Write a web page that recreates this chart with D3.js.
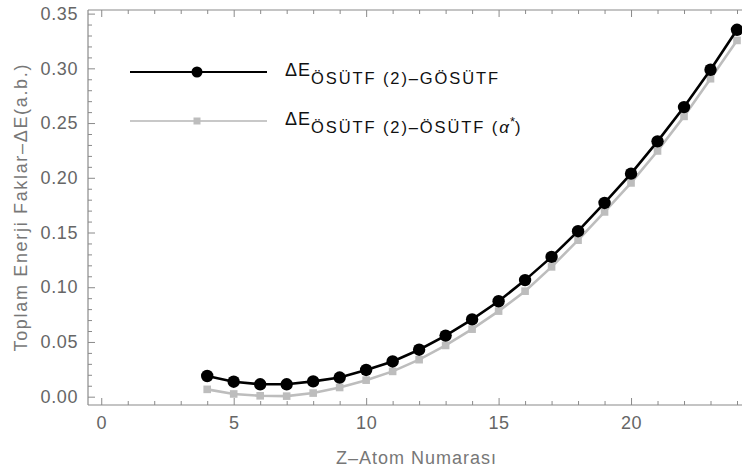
<!DOCTYPE html>
<html>
<head>
<meta charset="utf-8">
<script src="https://cdn.jsdelivr.net/npm/d3@7"></script>
<style>
  html, body { margin: 0; padding: 0; background: #fff; }
  svg { display: block; }
  text { font-family: "Liberation Sans", Arial, sans-serif; }
</style>
</head>
<body>
<svg id="chart" width="742" height="473"></svg>
<script>
// ---- data ----
const zValues = [4,5,6,7,8,9,10,11,12,13,14,15,16,17,18,19,20,21,22,23,24];
const seriesGOSUTF = [0.0189,0.0137,0.0113,0.0113,0.0140,0.0175,0.0244,0.0322,0.0429,0.0558,0.0706,0.0872,0.1065,0.1277,0.1512,0.1770,0.2038,0.2333,0.2646,0.2987,0.3352];
const seriesAlpha  = [0.0067,0.0025,0.0008,0.0005,0.0033,0.0084,0.0151,0.0231,0.0338,0.0468,0.0617,0.0782,0.0964,0.1186,0.1430,0.1688,0.1953,0.2245,0.2561,0.2905,0.3255];
const xTickValues = [0,5,10,15,20];
const yTickValues = [0,0.05,0.10,0.15,0.20,0.25,0.30,0.35];
const xTitle = "Z\u2013Atom Numaras\u0131";
const yTitle = "Toplam Enerji Faklar\u2013\u0394E(a.b.)";

// ---- layout ----
const svg = d3.select("#chart");
const pL = 88, pR = 737, pT = 10, pB = 405;
const x = d3.scaleLinear().domain([-0.5, 24]).range([pL, pR]);
const y = d3.scaleLinear().domain([-0.0076, 0.3533]).range([pB, pT]);
const frameColor = "#8a8a8a";
const labelColor = "#666";

// minor ticks
const xMinor = d3.range(0, 25, 1).filter(v => v % 5 !== 0);
const yMinor = d3.range(0, 36, 1).map(v => v / 100).filter((v, i) => i % 5 !== 0);

function styleAxis(g) {
  g.select(".domain").remove();
  g.selectAll(".tick line").attr("stroke", frameColor).attr("stroke-width", 1);
  g.selectAll(".tick text").attr("fill", labelColor).style("font-size", "18px")
    .style("letter-spacing", "0.6px");
}

// bottom axis
svg.append("g").attr("transform", `translate(0,${pB})`)
  .call(d3.axisBottom(x).tickValues(xTickValues).tickSize(-7).tickPadding(11).tickFormat(d3.format("d")))
  .call(styleAxis);
svg.append("g").attr("transform", `translate(0,${pB})`)
  .call(d3.axisBottom(x).tickValues(xMinor).tickSize(-4).tickFormat(""))
  .call(styleAxis);
// top axis ticks
svg.append("g").attr("transform", `translate(0,${pT})`)
  .call(d3.axisTop(x).tickValues(xTickValues).tickSize(-7).tickFormat(""))
  .call(styleAxis);
svg.append("g").attr("transform", `translate(0,${pT})`)
  .call(d3.axisTop(x).tickValues(xMinor).tickSize(-4).tickFormat(""))
  .call(styleAxis);
// left axis
svg.append("g").attr("transform", `translate(${pL},0)`)
  .call(d3.axisLeft(y).tickValues(yTickValues).tickSize(-7).tickPadding(10).tickFormat(d3.format(".2f")))
  .call(styleAxis);
svg.append("g").attr("transform", `translate(${pL},0)`)
  .call(d3.axisLeft(y).tickValues(yMinor).tickSize(-4).tickFormat(""))
  .call(styleAxis);

// frame lines
svg.append("line").attr("x1", pL).attr("x2", pL).attr("y1", pT).attr("y2", pB)
  .attr("stroke", frameColor).attr("stroke-width", 1.2);
svg.append("line").attr("x1", pL).attr("x2", 742).attr("y1", pB).attr("y2", pB)
  .attr("stroke", frameColor).attr("stroke-width", 1.2);
svg.append("line").attr("x1", pL).attr("x2", 742).attr("y1", pT).attr("y2", pT)
  .attr("stroke", frameColor).attr("stroke-width", 1.2);

// axis titles
svg.append("text").attr("x", 416).attr("y", 464).attr("text-anchor", "middle")
  .attr("fill", "#777").style("font-size", "18px").attr("textLength", 160)
  .text(xTitle);
svg.append("text").attr("transform", "translate(27,208) rotate(-90)").attr("text-anchor", "middle")
  .attr("fill", "#777").style("font-size", "18px").attr("textLength", 287)
  .text(yTitle);

// series
const line = d3.line().x((d, i) => x(zValues[i])).y(d => y(d));
const grayColor = "#bdbdbd";
const gGray = svg.append("g");
gGray.append("path").datum(seriesAlpha).attr("d", line).attr("fill", "none")
  .attr("stroke", grayColor).attr("stroke-width", 2.6);
gGray.selectAll("rect").data(seriesAlpha).join("rect")
  .attr("x", (d, i) => x(zValues[i]) - 3.8).attr("y", d => y(d) - 3.8)
  .attr("width", 7.6).attr("height", 7.6).attr("fill", grayColor);

const gBlack = svg.append("g");
gBlack.append("path").datum(seriesGOSUTF).attr("d", line).attr("fill", "none")
  .attr("stroke", "#000").attr("stroke-width", 2.6);
gBlack.selectAll("circle").data(seriesGOSUTF).join("circle")
  .attr("cx", (d, i) => x(zValues[i])).attr("cy", d => y(d)).attr("r", 6.2).attr("fill", "#000");

// legend
const lg = svg.append("g");
lg.append("line").attr("x1", 130).attr("x2", 267).attr("y1", 72).attr("y2", 72)
  .attr("stroke", "#000").attr("stroke-width", 2);
lg.append("circle").attr("cx", 197).attr("cy", 72).attr("r", 5.5).attr("fill", "#000");
lg.append("line").attr("x1", 130).attr("x2", 267).attr("y1", 121).attr("y2", 121)
  .attr("stroke", "#c8c8c8").attr("stroke-width", 2);
lg.append("rect").attr("x", 193.5).attr("y", 117.5).attr("width", 7).attr("height", 7).attr("fill", "#bdbdbd");

const t1 = lg.append("text").attr("x", 285).attr("y", 76).attr("fill", "#111").style("font-size", "18px");
t1.append("tspan").text("\u0394E").style("letter-spacing", "1px");
t1.append("tspan").attr("dy", 8).style("font-size", "16.5px").style("letter-spacing", "1.9px")
  .text("\u00D6S\u00DCTF (2)\u2013G\u00D6S\u00DCTF");

const t2 = lg.append("text").attr("x", 285).attr("y", 125).attr("fill", "#111").style("font-size", "18px");
t2.append("tspan").text("\u0394E").style("letter-spacing", "1px");
t2.append("tspan").attr("dy", 8).style("font-size", "16.5px").style("letter-spacing", "1.9px")
  .text("\u00D6S\u00DCTF (2)\u2013\u00D6S\u00DCTF (");
t2.append("tspan").style("font-size", "17px").style("font-style", "italic").style("letter-spacing", "1px").text("\u03B1");
t2.append("tspan").attr("dy", -7).style("font-size", "13px").text("*");
t2.append("tspan").attr("dy", 7).style("font-size", "16.5px").text(")");
</script>
</body>
</html>
